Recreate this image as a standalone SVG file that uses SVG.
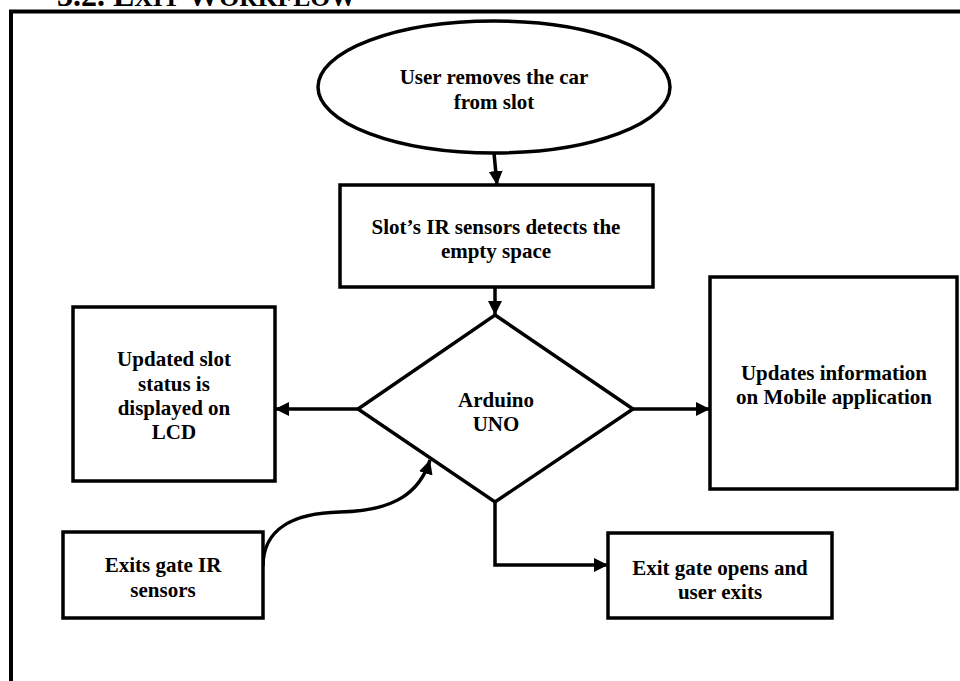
<svg xmlns="http://www.w3.org/2000/svg" width="960" height="681" viewBox="0 0 960 681">
<style>
.shape{fill:#fff;stroke:#000;stroke-width:3.5}
.t{font-family:"Liberation Serif","Times New Roman",serif;font-weight:bold;font-size:21px;fill:#000;text-anchor:middle}
.title{font-family:"Liberation Serif","Times New Roman",serif;font-weight:bold;font-size:32px;fill:#000}
.sc{font-size:25.6px}
.con{fill:none;stroke:#000;stroke-width:3.5}
</style>
<defs>
<marker id="ah" markerUnits="userSpaceOnUse" markerWidth="16" markerHeight="16" refX="14" refY="7" orient="auto">
<path d="M0,0 L14,7 L0,14 Z" fill="#000"/>
</marker>
</defs>
<rect width="960" height="681" fill="#fff"/>
<text class="title" x="57" y="6">3.2. E<tspan class="sc">XIT</tspan> W<tspan class="sc">ORKFLOW</tspan></text>
<g id="frame">
<path d="M11,681 L11,11.5 L960,11.5" fill="none" stroke="#000" stroke-width="4"/>
</g>
<g id="connectors">
<path class="con" d="M494,153 L497,185" marker-end="url(#ah)"/>
<path class="con" d="M495,287 L495,315" marker-end="url(#ah)"/>
<path class="con" d="M358,409 L275,409" marker-end="url(#ah)"/>
<path class="con" d="M633,409 L710,409" marker-end="url(#ah)"/>
<path class="con" d="M495,502 L495,565 L608,565" marker-end="url(#ah)"/>
<path class="con" d="M263,566 C263,528 295,513 340,512 C395,511 420,492 430,460" marker-end="url(#ah)"/>
</g>
<g id="start">
<ellipse class="shape" cx="494" cy="87" rx="176" ry="66"/>
<text class="t" x="494" y="84">User removes the car</text>
<text class="t" x="494" y="109">from slot</text>
</g>
<g id="slot">
<rect class="shape" x="340" y="185" width="313" height="102"/>
<text class="t" x="496" y="234">Slot’s IR sensors detects the</text>
<text class="t" x="496" y="258">empty space</text>
</g>
<g id="arduino">
<path class="shape" d="M495,315 L633,409 L495,502 L358,409 Z"/>
<text class="t" x="496" y="407">Arduino</text>
<text class="t" x="496" y="431">UNO</text>
</g>
<g id="lcd">
<rect class="shape" x="73" y="307" width="202" height="174"/>
<text class="t" x="174" y="366">Updated slot</text>
<text class="t" x="174" y="391">status is</text>
<text class="t" x="174" y="415">displayed on</text>
<text class="t" x="174" y="439">LCD</text>
</g>
<g id="mobile">
<rect class="shape" x="710" y="277" width="247" height="212"/>
<text class="t" x="834" y="380">Updates information</text>
<text class="t" x="834" y="404">on Mobile application</text>
</g>
<g id="exitsensors">
<rect class="shape" x="63" y="532" width="200" height="86"/>
<text class="t" x="163" y="572">Exits gate IR</text>
<text class="t" x="163" y="597">sensors</text>
</g>
<g id="exitgate">
<rect class="shape" x="608" y="533" width="224" height="85"/>
<text class="t" x="720" y="575">Exit gate opens and</text>
<text class="t" x="720" y="599">user exits</text>
</g>
</svg>
